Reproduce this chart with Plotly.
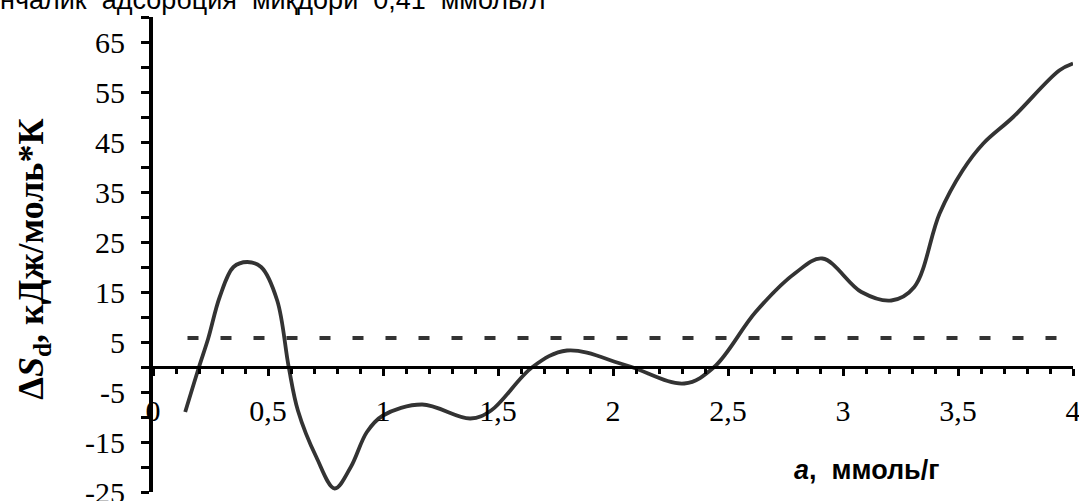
import plotly.graph_objects as go

# Differential entropy of adsorption vs. adsorbed amount
a_mmol = [0.14, 0.20, 0.24, 0.29, 0.35, 0.41, 0.47, 0.54, 0.59, 0.63, 0.71,
          0.79, 0.86, 0.93, 1.00, 1.17, 1.38, 1.47, 1.65, 1.80, 2.06, 2.31,
          2.44, 2.62, 2.79, 2.91, 3.08, 3.21, 3.31, 3.42, 3.52, 3.61, 3.74,
          3.94, 4.00]
dS = [-9.0, 0.0, 5.7, 14.0, 20.0, 21.0, 20.0, 13.3, 0.0, -8.7, -18.0,
      -24.3, -20.0, -13.0, -9.7, -7.5, -10.3, -8.7, 0.0, 3.3, 0.3, -3.3,
      0.0, 11.0, 18.7, 21.7, 15.0, 13.3, 16.0, 30.7, 39.3, 44.7, 50.0,
      59.3, 60.7]

# Reference level (dashed)
ref_x = [0.15, 4.0]
ref_y = [5.8, 5.8]

x_ticks = [0, 0.5, 1, 1.5, 2, 2.5, 3, 3.5, 4]
x_labels = ["0", "0,5", "1", "1,5", "2", "2,5", "3", "3,5", "4"]
y_ticks = [-25, -15, -5, 5, 15, 25, 35, 45, 55, 65]
y_labels = ["-25", "-15", "-5", "5", "15", "25", "35", "45", "55", "65"]

x_range = [0, 4]
y_range = [-25, 70]

fig = go.Figure()
fig.add_trace(go.Scatter(
    x=ref_x, y=ref_y, mode="lines",
    line=dict(color="#333333", width=4, dash="11px,22px"),
    hoverinfo="skip", showlegend=False))
fig.add_trace(go.Scatter(
    x=a_mmol, y=dS, mode="lines",
    line=dict(color="#333333", width=3.8, shape="spline", smoothing=1.0),
    showlegend=False))

axis_font = dict(family="Liberation Serif", size=30, color="black")

fig.update_layout(
    width=1079, height=501,
    margin=dict(l=153, r=6, t=16.7, b=9.3),
    paper_bgcolor="white", plot_bgcolor="white",
    xaxis=dict(
        range=x_range, anchor="free", automargin=False,
        position=(0 - y_range[0]) / (y_range[1] - y_range[0]),
        showgrid=False, zeroline=False,
        showline=True, linecolor="black", linewidth=3,
        tickmode="array", tickvals=x_ticks, ticktext=x_labels,
        ticks="outside", ticklen=7, tickwidth=3, tickcolor="black",
        ticklabelstandoff=9, ticklabeloverflow="allow",
        minor=dict(dtick=0.1, tick0=0, ticks="outside", ticklen=5,
                   tickwidth=3, tickcolor="black", showgrid=False),
        tickfont=axis_font,
    ),
    yaxis=dict(
        range=y_range, automargin=False, showgrid=False, zeroline=False,
        showline=True, linecolor="black", linewidth=4,
        tickmode="array", tickvals=y_ticks, ticktext=y_labels,
        ticks="outside", ticklen=8, tickwidth=3, tickcolor="black",
        ticklabelstandoff=10, ticklabeloverflow="allow",
        minor=dict(dtick=5, tick0=-25, ticks="outside", ticklen=8,
                   tickwidth=3, tickcolor="black", showgrid=False),
        tickfont=axis_font,
    ),
    annotations=[
        dict(text="<b>Δ<i>S</i><sub>d</sub>, кДж/моль*К</b>",
             xref="paper", yref="paper", x=-0.130, y=0.49,
             xanchor="center", yanchor="middle", textangle=-90,
             showarrow=False,
             font=dict(family="Liberation Serif", size=36, color="black")),
        dict(text="<b><i>a</i>,  ммоль/г</b>",
             xref="paper", yref="paper", x=0.775, y=0.046,
             xanchor="center", yanchor="middle", showarrow=False,
             font=dict(family="Liberation Sans", size=27, color="black")),
        dict(text="нчалик  адсорбция  миқдори  0,41  ммоль/л",
             xref="paper", yref="paper", x=0.428, y=1.0,
             xanchor="right", yanchor="bottom", showarrow=False,
             font=dict(family="Liberation Sans", size=27, color="black")),
    ],
)

fig.write_html("out.html")
